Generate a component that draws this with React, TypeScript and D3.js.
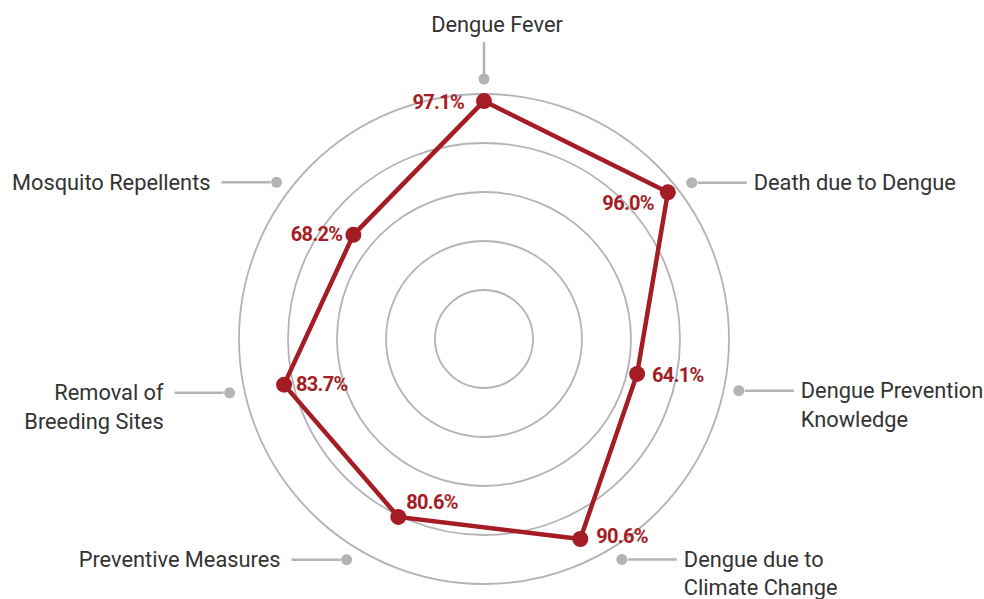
import React from "react";
import * as d3 from "d3";

// ---- data ----
const categories = [
  "Dengue Fever",
  "Death due to Dengue",
  "Dengue Prevention Knowledge",
  "Dengue due to Climate Change",
  "Preventive Measures",
  "Removal of Breeding Sites",
  "Mosquito Repellents",
];
const categoryLines = [
  ["Dengue Fever"],
  ["Death due to Dengue"],
  ["Dengue Prevention", "Knowledge"],
  ["Dengue due to", "Climate Change"],
  ["Preventive Measures"],
  ["Removal of", "Breeding Sites"],
  ["Mosquito Repellents"],
];
const values = [97.1, 96.0, 64.1, 90.6, 80.6, 83.7, 68.2];
const ringTicks = [20, 40, 60, 80, 100];

// ---- layout ----
const W = 984;
const H = 599;
const cx = 484;
const cy = 339;
const R = 245;
const labelR = 260;
const labelAngleShift = [0, 1.6, -1.4, -6.3, 6.2, 0.9, -1.5];
const valueLabelLayout = [
  { dx: -20, dy: 8, anchor: "end" },
  { dx: -14, dy: 18, anchor: "end" },
  { dx: 15, dy: 8, anchor: "start" },
  { dx: 16, dy: 4, anchor: "start" },
  { dx: 8, dy: -8, anchor: "start" },
  { dx: 12, dy: 6, anchor: "start" },
  { dx: -11, dy: 6, anchor: "end" },
];

const RED = "#a51d24";
const GRID = "#b3b3b8";
const TEXT = "#333333";
const FONT = "Roboto, 'Noto Sans', sans-serif";
const LABEL_SIZE = 21.8;

export default function App() {
  const r = d3.scaleLinear().domain([0, 100]).range([0, R]);
  const n = categories.length;
  const angle = d3
    .scaleLinear()
    .domain([0, n])
    .range([0, 2 * Math.PI]);

  const pt = (a: number, rad: number) => [
    cx + rad * Math.sin(a),
    cy - rad * Math.cos(a),
  ];

  const radial = d3
    .lineRadial<number>()
    .angle((_, i) => angle(i))
    .radius((d) => r(d))
    .curve(d3.curveLinearClosed);

  const points = values.map((v, i) => pt(angle(i), r(v)));

  return (
    <div style={{ position: "fixed", left: 0, top: 0 }}>
      <svg width={W} height={H} style={{ display: "block", background: "#fff" }}>
        {/* rings */}
        {ringTicks.map((t) => (
          <circle
            key={t}
            cx={cx}
            cy={cy}
            r={r(t)}
            fill="none"
            stroke={GRID}
            strokeWidth={1.8}
          />
        ))}

        {/* category labels */}
        {categoryLines.map((lines, i) => {
          const a = angle(i) + (labelAngleShift[i] * Math.PI) / 180;
          const [dx, dy] = pt(a, labelR);
          if (i === 0) {
            return (
              <g key={i}>
                <line x1={dx} y1={dy - 5} x2={dx} y2={dy - 37} stroke={GRID} strokeWidth={2.5} />
                <circle cx={dx} cy={dy} r={5.5} fill={GRID} />
                <text
                  x={dx + 13}
                  y={dy - 47}
                  textAnchor="middle"
                  fontFamily={FONT}
                  fontSize={LABEL_SIZE}
                  fill={TEXT}
                >
                  {lines[0]}
                </text>
              </g>
            );
          }
          const right = dx > cx;
          const s = right ? 1 : -1;
          const tx = right ? dx + 62 : dx - 66;
          return (
            <g key={i}>
              <line
                x1={dx + s * 6}
                y1={dy}
                x2={dx + s * 55}
                y2={dy}
                stroke={GRID}
                strokeWidth={2.5}
              />
              <circle cx={dx} cy={dy} r={5.5} fill={GRID} />
              <text
                x={tx}
                y={dy + 7.5}
                textAnchor={right ? "start" : "end"}
                fontFamily={FONT}
                fontSize={LABEL_SIZE}
                fill={TEXT}
              >
                {lines.map((l, k) => (
                  <tspan key={k} x={tx} dy={k === 0 ? 0 : 28.5}>
                    {l}
                  </tspan>
                ))}
              </text>
            </g>
          );
        })}

        {/* series polygon */}
        <path
          d={radial(values) || ""}
          transform={`translate(${cx},${cy})`}
          fill="none"
          stroke={RED}
          strokeWidth={4.5}
          strokeLinejoin="miter"
        />
        {points.map(([x, y], i) => (
          <circle key={i} cx={x} cy={y} r={8} fill={RED} />
        ))}

        {/* value labels */}
        {points.map(([x, y], i) => {
          const L = valueLabelLayout[i];
          return (
            <text
              key={i}
              x={x + L.dx}
              y={y + L.dy}
              textAnchor={L.anchor as any}
              fontFamily={FONT}
              fontWeight={700}
              fontSize={20}
              letterSpacing={-0.7}
              fill={RED}
            >
              {`${values[i].toFixed(1)}%`}
            </text>
          );
        })}
      </svg>
    </div>
  );
}
